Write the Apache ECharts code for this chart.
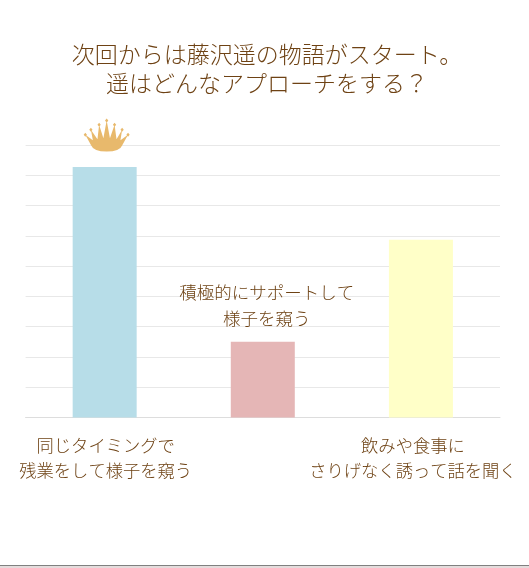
<!DOCTYPE html>
<html><head><meta charset="utf-8">
<style>html,body{margin:0;padding:0;background:#fff}#c{width:529px;height:568px}</style>
<script src="https://cdn.jsdelivr.net/npm/echarts@6/dist/echarts.min.js"></script>
</head><body><div id="c"></div>
<script>
const titleLines = ['次回からは藤沢遥の物語がスタート。', '遥はどんなアプローチをする？'];
const categories = ['同じタイミングで\n残業をして様子を窺う', '積極的にサポートして\n様子を窺う', '飲みや食事に\nさりげなく誘って話を聞く'];
const values = [82.7, 25, 58.7];
const barColors = ['#b7dde8', '#e5b6b6', '#ffffc8'];
const winnerIndex = 0;
const axisMax = 90;
const axisStep = 10;
const font = '"Noto Sans CJK JP","Noto Sans CJK SC",sans-serif';
const brown = '#6e4214';
const crownPath = 'path://M45 72L68 88L62 57L82 85L87 42L100 82L110 30L120 82L134 42L140 85L157 57L152 88L175 72L157 104Q150 122 110 122Q70 122 63 104Z'
 + 'M45 66L50 72L45 78L40 72ZM62 51L67 57L62 63L57 57ZM87 36L92 42L87 48L82 42ZM110 24L115 30L110 36L105 30ZM134 36L139 42L134 48L129 42ZM157 51L162 57L157 63L152 57ZM175 66L180 72L175 78L170 72Z';

const chart = echarts.init(document.getElementById('c'), null, {renderer:'canvas'});
chart.setOption({
  animation:false,
  backgroundColor:'#fff',
  title:{
    text:titleLines.join('\n'), left:262, top:35, textAlign:'center',
    textStyle:{fontFamily:font,fontSize:23,fontWeight:300,color:brown,lineHeight:29}
  },
  grid:{left:25.6,right:29,top:145,bottom:150.5,outerBoundsMode:'none'},
  xAxis:{
    type:'category',
    data:categories.map((c,i)=>({
      value:c,
      textStyle:i===1?{color:'transparent'}:(i===2?{padding:[0,16,0,0]}:{padding:[0,0,0,2]})
    })),
    axisTick:{show:false},
    axisLine:{lineStyle:{color:'#dddddd',width:1}},
    axisLabel:{interval:0,margin:15,fontFamily:font,fontSize:17.3,fontWeight:300,color:brown,lineHeight:25,width:220,overflow:'none',hideOverlap:false}
  },
  yAxis:{
    type:'value',min:0,max:axisMax,interval:axisStep,
    axisLabel:{show:false},axisLine:{show:false},axisTick:{show:false},
    splitLine:{lineStyle:{color:'#e8e8e8',width:1}}
  },
  series:[{
    type:'bar',barWidth:64,
    data:values.map((v,i)=>({
      value:v,itemStyle:{color:barColors[i]},
      label:{show:i===1,position:'top',distance:10,offset:[4,0],
        formatter:categories[i],fontFamily:font,fontSize:17.5,fontWeight:300,color:brown,lineHeight:26}
    })),
    markPoint:{
      silent:true,
      symbol:crownPath,symbolSize:[46,33],symbolOffset:[2,-32],
      itemStyle:{color:'#e8b96c'},label:{show:false},
      data:[{coord:[winnerIndex,values[winnerIndex]]}]
    }
  }],
  graphic:[
    {type:'rect',left:0,top:565,shape:{width:529,height:1},style:{fill:'#808080'}},
    {type:'rect',left:0,top:566,shape:{width:529,height:2},style:{fill:'#e4dcdc'}}
  ]
});
</script></body></html>
